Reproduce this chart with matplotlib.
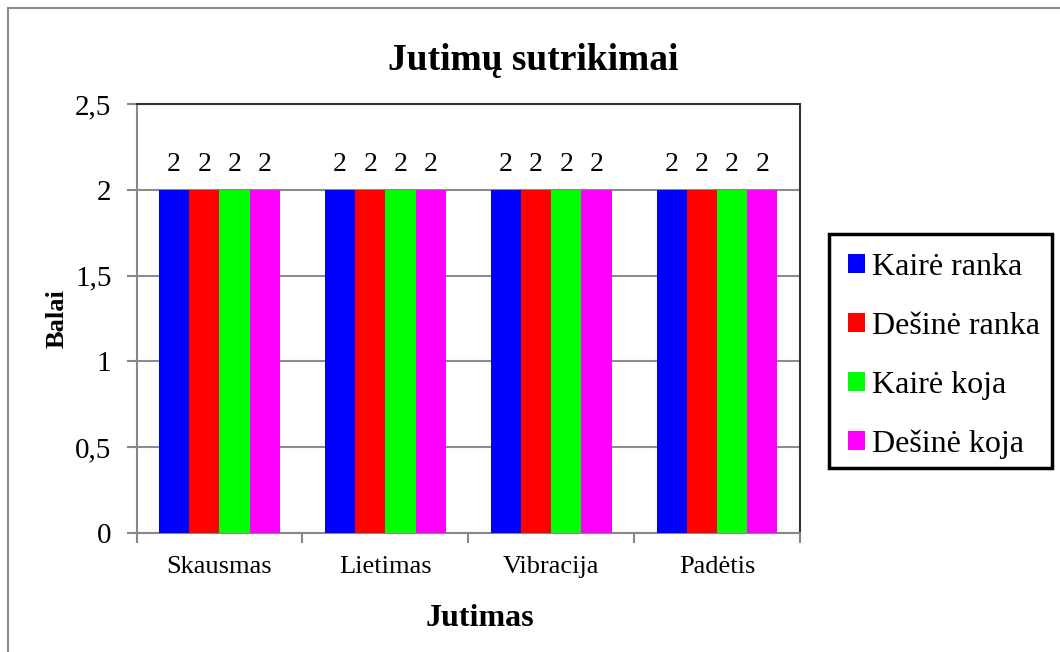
import numpy as np
import matplotlib.pyplot as plt
from matplotlib.patches import Rectangle

categories = ['Skausmas', 'Lietimas', 'Vibracija', 'Padėtis']
series_names = ['Kairė ranka', 'Dešinė ranka', 'Kairė koja', 'Dešinė koja']
series_colors = ['#0000ff', '#ff0000', '#00ff00', '#ff00ff']
values = [
    [2, 2, 2, 2],  # Kairė ranka
    [2, 2, 2, 2],  # Dešinė ranka
    [2, 2, 2, 2],  # Kairė koja
    [2, 2, 2, 2],  # Dešinė koja
]
y_ticks = [0, 0.5, 1, 1.5, 2, 2.5]
y_tick_labels = ['0', '0,5', '1', '1,5', '2', '2,5']

plt.rcParams['font.family'] = ['Liberation Serif', 'DejaVu Serif']

W, H = 1060, 652
fig = plt.figure(figsize=(W / 100, H / 100), dpi=100)
# chart frame, only its left and top edges fall inside the image
fig.patches.append(Rectangle((8 / W, -0.1), 1.2, 1.1 - 8 / H,
                             transform=fig.transFigure, fill=False,
                             edgecolor='#8c8c8c', linewidth=1.5))
ax = fig.add_axes([136.5 / W, 119 / H, 663.5 / W, 429 / H])

x = np.arange(len(categories))
bar_w = 0.182
for i, (name, vals) in enumerate(zip(series_names, values)):
    offs = (i - 1.5) * bar_w
    bars = ax.bar(x + offs, vals, width=bar_w, color=series_colors[i],
                  label=name, zorder=3)
    for b, v in zip(bars, vals):
        ax.text(b.get_x() + b.get_width() / 2, v + 0.145, str(v),
                ha='center', va='center', fontsize=20)

ax.set_xlim(-0.5, len(categories) - 0.5)
ax.set_ylim(0, 2.5)
ax.set_yticks(y_ticks)
ax.set_yticklabels(y_tick_labels, fontsize=21)
ax.set_xticks(x)
ax.set_xticklabels(categories, fontsize=19)
ax.set_xticks(np.arange(len(categories) + 1) - 0.5, minor=True)
ax.tick_params(axis='x', which='major', length=0, pad=16.5)
ax.tick_params(axis='x', which='minor', length=7, width=1.5, color='#888888')
ax.tick_params(axis='y', length=7, width=1.5, color='#888888', pad=11)
ax.grid(axis='y', color='#8c8c8c', linewidth=1.5, zorder=0)

for side in ['left', 'bottom']:
    ax.spines[side].set_color('#888888')
    ax.spines[side].set_linewidth(1.5)
for side in ['top', 'right']:
    ax.spines[side].set_color('#333333')
    ax.spines[side].set_linewidth(1.5)

fig.text(533 / W, 1 - 61 / H, 'Jutimų sutrikimai', fontsize=27,
         fontweight='bold', ha='center', va='center')
fig.text(480 / W, 1 - 618 / H, 'Jutimas', fontsize=23,
         fontweight='bold', ha='center', va='center')
fig.text(57 / W, 1 - 319 / H, 'Balai', fontsize=19, fontweight='bold',
         rotation=90, ha='center', va='center')

# legend entries without its own frame, box drawn separately
leg = fig.legend(loc='upper left', bbox_to_anchor=(829 / W, 1 - 234 / H),
                 fontsize=23, frameon=False,
                 handlelength=0.53, handleheight=0.53, handletextpad=0.22,
                 labelspacing=0.93, borderpad=0.6, borderaxespad=0)
fig.patches.append(Rectangle((829 / W, 1 - 468 / H), 223 / W, 234 / H,
                             transform=fig.transFigure, fill=False,
                             edgecolor='black', linewidth=2.5))

fig.savefig('out.png', dpi=100)
